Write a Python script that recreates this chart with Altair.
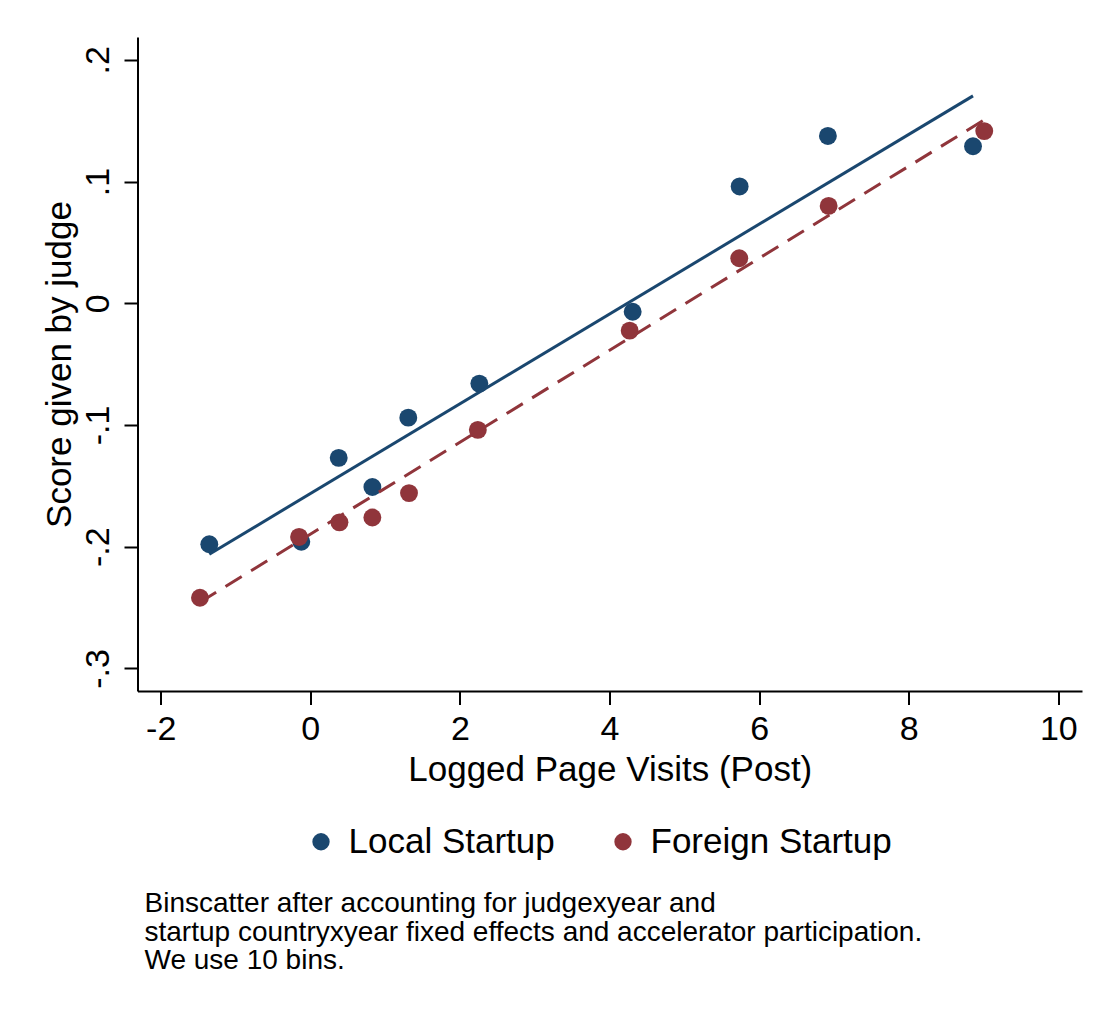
import altair as alt
import pandas as pd

FONT = "Liberation Sans"
BLUE = "#1a476f"
RED = "#90353b"

# Bin means (10 bins per group)
series_names = ["Local Startup", "Foreign Startup"]
local_x = [-1.35, -0.12, 0.38, 0.83, 1.31, 2.26, 4.31, 5.74, 6.92, 8.86]
local_y = [-0.198, -0.196, -0.127, -0.151, -0.094, -0.066, -0.007, 0.096, 0.1375, 0.129]
foreign_x = [-1.475, -0.15, 0.39, 0.83, 1.32, 2.24, 4.27, 5.735, 6.93, 9.01]
foreign_y = [-0.242, -0.192, -0.180, -0.176, -0.156, -0.104, -0.0225, 0.037, 0.080, 0.1415]

# Linear fit end points for each group
local_fit_x = [-1.35, 8.86]
local_fit_y = [-0.2062, 0.1704]
foreign_fit_x = [-1.475, 8.99]
foreign_fit_y = [-0.2456, 0.150]

x_ticks = [-2, 0, 2, 4, 6, 8, 10]
y_ticks = [-0.3, -0.2, -0.1, 0.0, 0.1, 0.2]

note_lines = [
    "Binscatter after accounting for judgexyear and",
    "startup countryxyear fixed effects and accelerator participation.",
    "We use 10 bins.",
]

points = pd.DataFrame({
    "x": local_x + foreign_x,
    "y": local_y + foreign_y,
    "group": [series_names[0]] * len(local_x) + [series_names[1]] * len(foreign_x),
})
local_fit = pd.DataFrame({"x": local_fit_x, "y": local_fit_y})
foreign_fit = pd.DataFrame({"x": foreign_fit_x, "y": foreign_fit_y})

x_scale = alt.Scale(domain=[-2.31, 10.317], nice=False, zero=False)
y_scale = alt.Scale(domain=[-0.3186, 0.2188], nice=False, zero=False)

x_axis = alt.Axis(
    values=x_ticks,
    labelExpr="(datum.value < 0 ? '-' : '') + toString(abs(datum.value))",
    title="Logged Page Visits (Post)",
    titleX=472.25, titleY=89, titleBaseline="alphabetic", titleAlign="center",
    labelBaseline="alphabetic", labelPadding=35,
)
y_axis = alt.Axis(
    values=y_ticks,
    labelExpr="datum.value == 0 ? '0' : (datum.value < 0 ? '-' : '') + '.' + toString(round(abs(datum.value) * 10))",
    title="Score given by judge",
    titleAngle=270, titleX=-67.5, titleY=327, titleBaseline="alphabetic", titleAlign="center",
    labelAngle=270, labelAlign="center", labelBaseline="alphabetic", labelPadding=15.5,
)

scatter = alt.Chart(points).mark_circle(size=320, opacity=1).encode(
    x=alt.X("x:Q", scale=x_scale, axis=x_axis),
    y=alt.Y("y:Q", scale=y_scale, axis=y_axis),
    color=alt.Color(
        "group:N",
        scale=alt.Scale(domain=series_names, range=[BLUE, RED]),
        sort=series_names,
        legend=alt.Legend(
            title=None, orient="none", legendX=166, legendY=787,
            direction="horizontal", symbolType="circle", symbolSize=300,
            symbolStrokeWidth=0, symbolOpacity=1, labelFontSize=35, labelFont=FONT,
            labelColor="black", labelOffset=10, labelLimit=0, columnPadding=50, padding=0,
        ),
    ),
)

local_line = alt.Chart(local_fit).mark_line(color=BLUE, strokeWidth=3).encode(
    x=alt.X("x:Q", scale=x_scale),
    y=alt.Y("y:Q", scale=y_scale),
)
foreign_line = alt.Chart(foreign_fit).mark_line(color=RED, strokeWidth=3, strokeDash=[19, 11]).encode(
    x=alt.X("x:Q", scale=x_scale),
    y=alt.Y("y:Q", scale=y_scale),
)

chart = alt.layer(scatter, local_line, foreign_line).properties(
    width=944.5,
    height=654,
    autosize=alt.AutoSizeParams(type="none"),
    padding={"left": 137.5, "top": 37, "right": 33, "bottom": 323},
    background="white",
    title=alt.TitleParams(
        text=note_lines, orient="bottom", anchor="start", frame="group",
        font=FONT, fontSize=28, lineHeight=28.5, fontWeight="normal", color="black",
        baseline="alphabetic", dx=7, offset=52,
    ),
).configure_view(stroke=None).configure_axis(
    domainColor="black", domainWidth=2, tickColor="black", tickWidth=2, tickSize=13.5,
    labelFont=FONT, labelFontSize=34, labelColor="black",
    titleFont=FONT, titleFontSize=35, titleFontWeight="normal", titleColor="black",
    grid=False,
)

chart.save("out.html", embed_options={"renderer": "svg", "actions": False})
